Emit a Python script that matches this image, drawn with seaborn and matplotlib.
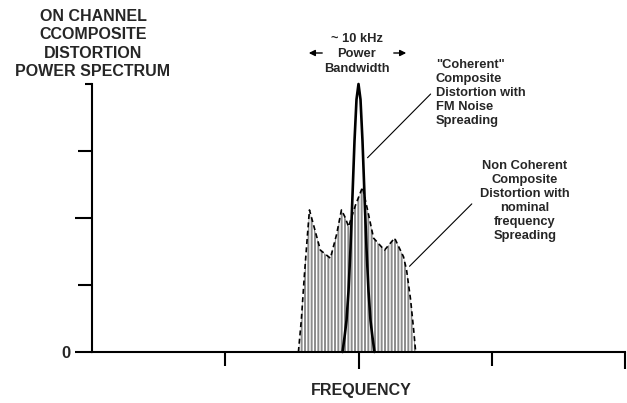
import numpy as np
import pandas as pd
import matplotlib
matplotlib.use("Agg")
import matplotlib.pyplot as plt
import seaborn as sns

# ---------------------------------------------------------------------------
# Data (x: frequency units, y: power units)
# ---------------------------------------------------------------------------

# coherent CTB spike (FM noise spreading)
spike_x = [1.880, 1.895, 1.910, 1.925, 1.940, 1.955, 1.970, 1.985, 2.000,
           2.015, 2.030, 2.045, 2.060, 2.075, 2.090, 2.105, 2.120]
spike_y = [0.00, 0.22, 0.47, 0.91, 1.55, 2.34, 3.15, 3.77, 4.00,
           3.77, 3.15, 2.34, 1.55, 0.91, 0.47, 0.22, 0.00]

# non coherent distortion envelope (hatched)
spread_x = [1.549, 1.571, 1.594, 1.617, 1.632, 1.662, 1.714, 1.789, 1.835,
            1.872, 1.902, 1.925, 1.977, 2.030, 2.068, 2.113, 2.195, 2.271,
            2.338, 2.361, 2.391, 2.414, 2.429]
spread_y = [0.00, 0.48, 1.15, 1.75, 2.12, 1.90, 1.52, 1.40, 1.75,
            2.12, 2.00, 1.87, 2.19, 2.46, 2.12, 1.70, 1.52, 1.70,
            1.42, 1.22, 0.78, 0.33, 0.00]

y_long_ticks = [0, 2]
y_short_ticks = [1, 3]
y_top_tick = [4]
x_long_ticks = [2, 4]
x_short_ticks = [1, 3]

title_lines = ["ON CHANNEL", "CCOMPOSITE", "DISTORTION", "POWER SPECTRUM"]
bw_lines = ["~ 10 kHz", "Power", "Bandwidth"]
coherent_lines = ['"Coherent"', "Composite", "Distortion with", "FM Noise", "Spreading"]
noncoh_lines = ["Non Coherent", "Composite", "Distortion with", "nominal",
                "frequency", "Spreading"]

spike = pd.DataFrame({"freq": spike_x, "power": spike_y})
spread = pd.DataFrame({"freq": spread_x, "power": spread_y})

# ---------------------------------------------------------------------------
# Style
# ---------------------------------------------------------------------------
sns.set_theme(style="white")
plt.rcParams["font.family"] = ["Liberation Sans", "DejaVu Sans"]
plt.rcParams["font.weight"] = "bold"
plt.rcParams["hatch.linewidth"] = 1.4
plt.rcParams["hatch.color"] = "#8c8c8c"

W, H = 627, 403
fig = plt.figure(figsize=(W / 100, H / 100), dpi=100)
ax = fig.add_axes([92 / W, 1 - 352 / H, (625 - 92) / W, (352 - 84) / H])

# hatched non coherent spectrum
ax.fill_between(spread["freq"], spread["power"], facecolor="white",
                edgecolor="#8c8c8c", hatch="|||||", linewidth=0)
sns.lineplot(data=spread, x="freq", y="power", ax=ax, color="black",
             linewidth=1.2, sort=False)
ax.lines[-1].set_linestyle((0, (3, 2)))

# coherent spike
sns.lineplot(data=spike, x="freq", y="power", ax=ax, color="black",
             linewidth=1.9, sort=False)
ax.lines[-1].set_clip_on(False)

ax.set_xlim(0, 4)
ax.set_ylim(0, 4)
ax.set_xlabel("")
ax.set_ylabel("")

# axes
sns.despine(ax=ax)
for s in ["left", "bottom"]:
    ax.spines[s].set_linewidth(1.5)
    ax.spines[s].set_color("black")

ax.set_yticks(y_long_ticks)
ax.set_yticklabels(["0", ""], fontsize=12, fontweight="bold")
ax.set_yticks(y_short_ticks, minor=True)
ax.set_xticks(x_long_ticks)
ax.set_xticklabels([])
ax.set_xticks(x_short_ticks, minor=True)
ax.tick_params(axis="y", which="major", direction="out", length=12.5,
               width=1.5, color="black", pad=3, left=True)
ax.tick_params(axis="y", which="minor", direction="out", length=10,
               width=1.5, color="black", left=True)
ax.tick_params(axis="x", which="major", direction="out", length=12,
               width=1.5, color="black", bottom=True)
ax.tick_params(axis="x", which="minor", direction="out", length=10,
               width=1.5, color="black", bottom=True)

top = ax.secondary_yaxis(location=0)
top.set_yticks(y_top_tick)
top.set_yticklabels([])
top.tick_params(length=5, width=1.5, color="black")
top.spines["left"].set_visible(False)

# ---------------------------------------------------------------------------
# Text
# ---------------------------------------------------------------------------
def px(x, y):
    return x / W, 1 - y / H

fig.text(*px(93, 44), "\n".join(title_lines), ha="center", va="center",
         fontsize=11.5, fontweight="bold", linespacing=1.3)
fig.text(*px(361, 391), "FREQUENCY", ha="center", va="center",
         fontsize=11.5, fontweight="bold")
fig.text(*px(357, 54), "\n".join(bw_lines), ha="center", va="center",
         fontsize=9.3, fontweight="bold", linespacing=1.3)
fig.text(*px(436, 93), "\n".join(coherent_lines), ha="left", va="center",
         fontsize=9.3, fontweight="bold", linespacing=1.22)
fig.text(*px(525, 201), "\n".join(noncoh_lines), ha="center", va="center",
         fontsize=9.3, fontweight="bold", linespacing=1.22)

# bandwidth arrows
for start, end in [((325, 53), (306, 53)), ((391, 53), (409, 53))]:
    ax.annotate("", xy=(end[0], H - end[1]), xytext=(start[0], H - start[1]),
                xycoords="figure pixels", textcoords="figure pixels",
                arrowprops=dict(arrowstyle="-|>", color="black", lw=1.0,
                                mutation_scale=9))

# leader lines
ax.annotate("", xy=(2.053, 2.87), xytext=(2.556, 3.88), xycoords="data",
            arrowprops=dict(arrowstyle="-", color="black", lw=0.8),
            annotation_clip=False)
ax.annotate("", xy=(2.368, 1.25), xytext=(2.865, 2.24), xycoords="data",
            arrowprops=dict(arrowstyle="-", color="black", lw=0.8),
            annotation_clip=False)

fig.savefig("out.png", dpi=100)
